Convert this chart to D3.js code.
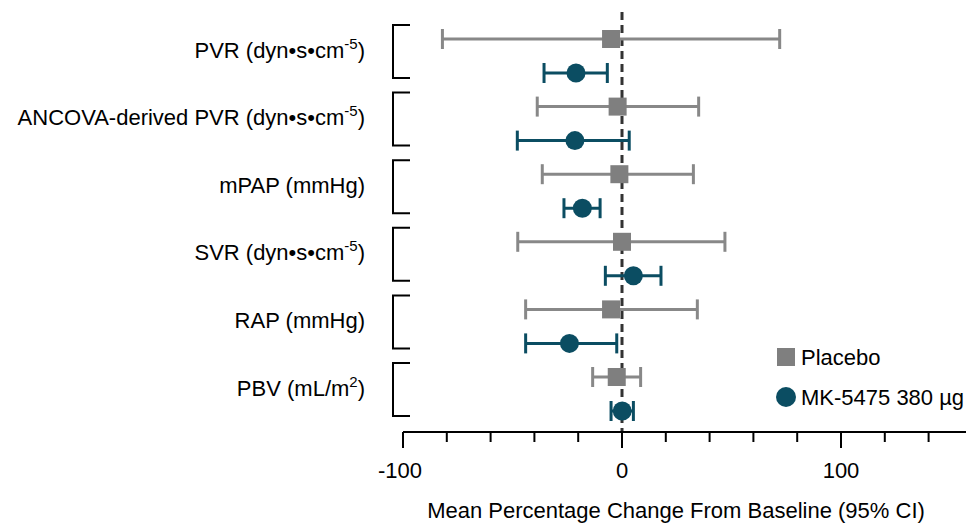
<!DOCTYPE html>
<html>
<head>
<meta charset="utf-8">
<script src="https://cdn.jsdelivr.net/npm/d3@7"></script>
<style>
  body { margin: 0; background: #fff; }
  text { font-family: "Liberation Sans", Arial, sans-serif; }
</style>
</head>
<body>
<div id="chart"></div>
<script>
// parameters (label text, superscript)
const params = [
  ["PVR (dyn•s•cm", "-5", ")"],
  ["ANCOVA-derived PVR (dyn•s•cm", "-5", ")"],
  ["mPAP (mmHg)", "", ""],
  ["SVR (dyn•s•cm", "-5", ")"],
  ["RAP (mmHg)", "", ""],
  ["PBV (mL/m", "2", ")"]
];

// mean percentage change and 95% CI
const placeboMean = [-5, -2, -1.2, 0, -5, -2.4];
const placeboLow  = [-82, -38.7, -36.4, -47.6, -44, -13.4];
const placeboHigh = [72, 35, 32.6, 47, 34.4, 8.5];

const mkMean = [-21, -21.5, -18.1, 5.2, -24, 0.1];
const mkLow  = [-35.6, -47.8, -26.5, -7.6, -44, -5];
const mkHigh = [-6.7, 3.3, -10, 17.8, -2.4, 5.2];

const majorTicks = [-100, 0, 100];
const minorTicks = [-80, -60, -40, -20, 20, 40, 60, 80, 120, 140];

const width = 966, height = 525;
const gray = "#888888", teal = "#0b4d62";
const fs = 22;

const svg = d3.select("#chart").append("svg")
  .attr("width", width)
  .attr("height", height);

const x = d3.scaleLinear().domain([-100, 100]).range([403, 841]);
const y = d3.scalePoint().domain(d3.range(params.length)).range([39, 377]);
const off = 34;
const axisY = 432;

// zero line
svg.append("line")
  .attr("x1", x(0)).attr("x2", x(0))
  .attr("y1", 12).attr("y2", axisY)
  .attr("stroke", "#333").attr("stroke-width", 3)
  .attr("stroke-dasharray", "8,5");

// axis
const ax = svg.append("g");
ax.append("line")
  .attr("x1", x(-100)).attr("x2", width)
  .attr("y1", axisY).attr("y2", axisY)
  .attr("stroke", "#000").attr("stroke-width", 2);
ax.selectAll(".major").data(majorTicks).join("line")
  .attr("x1", d => x(d)).attr("x2", d => x(d))
  .attr("y1", axisY).attr("y2", axisY + 16)
  .attr("stroke", "#000").attr("stroke-width", 2);
ax.selectAll(".minor").data(minorTicks).join("line")
  .attr("x1", d => x(d)).attr("x2", d => x(d))
  .attr("y1", axisY).attr("y2", axisY + 10)
  .attr("stroke", "#000").attr("stroke-width", 2);
ax.selectAll(".lbl").data(majorTicks).join("text")
  .attr("x", d => x(d) - (d < 0 ? 3 : 0)).attr("y", 478)
  .attr("text-anchor", "middle")
  .attr("font-size", fs)
  .text(d => d);
svg.append("text")
  .attr("x", 676).attr("y", 518)
  .attr("text-anchor", "middle")
  .attr("font-size", fs)
  .text("Mean Percentage Change From Baseline (95% CI)");

// row labels and brackets
params.forEach((p, i) => {
  const top = y(i) - 14, bot = y(i) + off + 5;
  svg.append("path")
    .attr("d", `M410,${top}H393V${bot}H410`)
    .attr("fill", "none").attr("stroke", "#000").attr("stroke-width", 2);
  const t = svg.append("text")
    .attr("x", 365).attr("y", (top + bot) / 2 + 6)
    .attr("text-anchor", "end")
    .attr("font-size", fs);
  t.append("tspan").text(p[0]);
  if (p[1]) t.append("tspan").attr("font-size", 15).attr("dy", -9).text(p[1]);
  if (p[2]) t.append("tspan").attr("dy", p[1] ? 9 : 0).text(p[2]);
});

// error bars
function drawSeries(mean, low, high, dy, color, shape) {
  const g = svg.append("g");
  const rows = mean.map((m, i) => ({ m, lo: low[i], hi: high[i], yy: y(i) + dy }));
  g.selectAll(".ci").data(rows).join("line")
    .attr("x1", d => x(d.lo)).attr("x2", d => x(d.hi))
    .attr("y1", d => d.yy).attr("y2", d => d.yy)
    .attr("stroke", color).attr("stroke-width", 3);
  g.selectAll(".capl").data(rows).join("line")
    .attr("x1", d => x(d.lo)).attr("x2", d => x(d.lo))
    .attr("y1", d => d.yy - 10).attr("y2", d => d.yy + 10)
    .attr("stroke", color).attr("stroke-width", 3);
  g.selectAll(".caph").data(rows).join("line")
    .attr("x1", d => x(d.hi)).attr("x2", d => x(d.hi))
    .attr("y1", d => d.yy - 10).attr("y2", d => d.yy + 10)
    .attr("stroke", color).attr("stroke-width", 3);
  if (shape === "square") {
    g.selectAll(".pt").data(rows).join("rect")
      .attr("x", d => x(d.m) - 9).attr("y", d => d.yy - 9)
      .attr("width", 18).attr("height", 18)
      .attr("fill", "#7f7f7f");
  } else {
    g.selectAll(".pt").data(rows).join("circle")
      .attr("cx", d => x(d.m)).attr("cy", d => d.yy)
      .attr("r", 9.5).attr("fill", color);
  }
}
drawSeries(placeboMean, placeboLow, placeboHigh, 0, gray, "square");
drawSeries(mkMean, mkLow, mkHigh, off, teal, "circle");

// legend
svg.append("rect").attr("x", 777).attr("y", 348).attr("width", 18).attr("height", 18).attr("fill", "#7f7f7f");
svg.append("text").attr("x", 801).attr("y", 365).attr("font-size", fs).text("Placebo");
svg.append("circle").attr("cx", 786).attr("cy", 397).attr("r", 10).attr("fill", teal);
svg.append("text").attr("x", 801).attr("y", 405).attr("font-size", fs).text("MK-5475 380 µg");
</script>
</body>
</html>
